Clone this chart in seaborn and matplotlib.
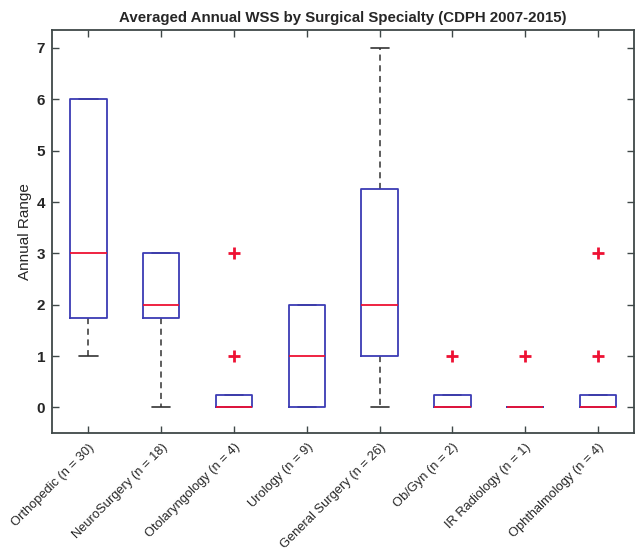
import matplotlib
matplotlib.use("Agg")
import matplotlib.pyplot as plt
import matplotlib.colors as mcolors
import seaborn as sns
import pandas as pd

# Category labels (x axis)
categories = [
    "Orthopedic (n = 30)",
    "NeuroSurgery (n = 18)",
    "Otolaryngology (n = 4)",
    "Urology (n = 9)",
    "General Surgery (n = 26)",
    "Ob/Gyn (n = 2)",
    "IR Radiology (n = 1)",
    "Ophthalmology (n = 4)",
]

# Annual range values per specialty (chosen to reproduce the box statistics)
orthopedic = [1, 1, 2, 2, 4, 6, 6, 6]
neurosurgery = [0, 1, 2, 2, 2, 3, 3, 3]
otolaryngology = [0, 0, 0, 0, 0, 0, 1, 3]
urology = [0, 0, 1, 2, 2]
general_surgery = [0, 1, 1, 2, 2, 4, 5, 7]
obgyn = [0, 0, 0, 1]
ir_radiology = [0, 0, 0, 0, 1]
ophthalmology = [0, 0, 0, 0, 0, 0, 1, 3]

series = [orthopedic, neurosurgery, otolaryngology, urology,
          general_surgery, obgyn, ir_radiology, ophthalmology]

y_ticks = [0, 1, 2, 3, 4, 5, 6, 7]

rows = []
for cat, vals in zip(categories, series):
    for v in vals:
        rows.append({"Specialty": cat, "Annual Range": v})
df = pd.DataFrame(rows)

sns.set_theme(style="white")
plt.rcParams["font.family"] = ["Liberation Sans", "DejaVu Sans"]

fig = plt.figure(figsize=(6.35, 5.5), dpi=100)
ax = fig.add_axes([0.082, 0.2127, 0.917, 0.7327])

blue = "#3c3cb4"
red = "#ee1133"
wcol = "#333333"
sns.boxplot(
    data=df, x="Specialty", y="Annual Range", order=categories,
    width=0.5, whis=1.5, fill=False, ax=ax,
    boxprops=dict(color=blue, linewidth=1.3),
    medianprops=dict(color=red, linewidth=1.3),
    whiskerprops=dict(color=wcol, linestyle=(0, (4, 3)), linewidth=1.1),
    capprops=dict(color=wcol, linewidth=1.2),
    flierprops=dict(marker="+", markeredgecolor=red, markersize=8,
                    markeredgewidth=2, linestyle="none"),
)

# Draw order: whiskers/caps below boxes, medians on top
for ln in ax.lines:
    c = mcolors.to_hex(ln.get_color())
    if c == blue:
        ln.set_zorder(3)
    elif c == red:
        ln.set_zorder(4)
    else:
        ln.set_zorder(2)

ax.set_xlim(-0.5, 7.5)
ax.set_ylim(-0.5, 7.35)
ax.set_yticks(y_ticks)
ax.set_yticklabels([str(t) for t in y_ticks], fontweight="bold", fontsize=11)
ax.set_xticks(range(len(categories)))
ax.set_xticklabels(categories, rotation=45, ha="right", rotation_mode="anchor",
                   fontsize=9.3)
ax.set_xlabel("")
ax.set_ylabel("Annual Range", fontsize=11, labelpad=3.5)
ax.set_title("Averaged Annual WSS by Surgical Specialty (CDPH 2007-2015)",
             fontsize=10.8, fontweight="bold", pad=6)

for s in ax.spines.values():
    s.set_visible(True)
    s.set_color("#3f4848")
    s.set_linewidth(1.3)
ax.tick_params(axis="both", direction="in", length=5, width=1,
               color="#3f4848", top=True, right=True, left=True, bottom=True,
               pad=6)
ax.tick_params(axis="y", pad=5)

fig.savefig("out.png", dpi=100)
